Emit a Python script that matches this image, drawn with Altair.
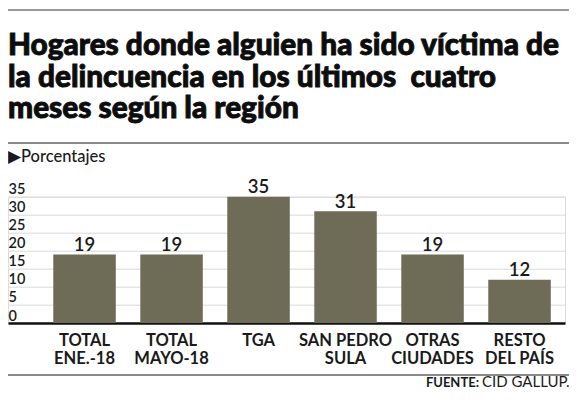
import altair as alt
import pandas as pd

# ---- data ----
regions = ["TOTAL|ENE.-18", "TOTAL|MAYO-18", "TGA", "SAN PEDRO|SULA", "OTRAS|CIUDADES", "RESTO|DEL PAÍS"]
values = [19, 19, 35, 31, 19, 12]
y_ticks = [0, 5, 10, 15, 20, 25, 30, 35]
title_lines = [
    "Hogares donde alguien ha sido víctima de",
    "la delincuencia en los últimos\u00a0 cuatro",
    "meses según la región",
]
subtitle = "▶Porcentajes"
source_label = "FUENTE:"
source_text = "CID GALLUP."

df = pd.DataFrame({"region": regions, "value": values})
one = pd.DataFrame({"k": [0]})

FONT = "Lato, Liberation Sans, sans-serif"
W, H = 557, 126.3
BAR = "#6e6c57"

x_enc = alt.X(
    "region:N",
    sort=regions,
    scale=alt.Scale(paddingInner=0.2816, paddingOuter=0.342, align=0.761),
    axis=alt.Axis(
        title=None,
        labelAngle=0,
        labelExpr="split(datum.label, '|')",
        labelFont=FONT,
        labelFontSize=16.5,
        labelFontWeight="bold",
        labelColor="#1a1a1a",
        labelLineHeight=18.3,
        labelBaseline="top",
        labelPadding=9,
        ticks=False,
        domainColor="#111111",
        domainWidth=2.5,
        grid=False,
    ),
)
y_enc = alt.Y(
    "value:Q",
    scale=alt.Scale(domain=[0, 35], nice=False),
    axis=alt.Axis(
        title=None,
        values=y_ticks,
        labelAlign="left",
        labelBaseline="bottom",
        labelPadding=0,
        labelFont=FONT,
        labelFontSize=14.5,
        labelFontWeight=600,
        labelColor="#1a1a1a",
        ticks=False,
        tickSize=0,
        domain=False,
        grid=True,
        gridColor="#d9d9d9",
        gridWidth=1,
        labelOverlap=False,
        labelFlush=False,
    ),
)

base = alt.Chart(df).encode(x=x_enc, y=y_enc)
bars = base.mark_bar(color=BAR)
vals = base.mark_text(
    baseline="alphabetic", dy=-3.5, font=FONT, fontSize=18.5, fontWeight=600, color="#1a1a1a"
).encode(text="value:Q")

top_line = alt.Chart(one).mark_rule(color="#9a9a9a", strokeWidth=2).encode(
    x=alt.value(0), x2=alt.value(561), y=alt.value(-186.7)
)
title = alt.Chart(one).mark_text(
    align="left", baseline="alphabetic", font=FONT, fontSize=29.8,
    fontWeight=900, color="#0d0d0d", stroke="#0d0d0d", strokeWidth=0.9, lineHeight=31.5,
).encode(x=alt.value(0), y=alt.value(-141.7), text=alt.value(title_lines))
mid_line = alt.Chart(one).mark_rule(color="#8a8a8a", strokeWidth=2).encode(
    x=alt.value(0), x2=alt.value(561), y=alt.value(-53.7)
)
sub = alt.Chart(one).mark_text(
    align="left", baseline="alphabetic", font=FONT, fontSize=16.5, fontWeight=500, color="#1a1a1a"
).encode(x=alt.value(0), y=alt.value(-34.7), text=alt.value(subtitle))
bottom_line = alt.Chart(one).mark_rule(color="#8a8a8a", strokeWidth=2).encode(
    x=alt.value(0), x2=alt.value(561), y=alt.value(178.3)
)
src_bold = alt.Chart(one).mark_text(
    align="right", baseline="alphabetic", font=FONT, fontSize=13,
    fontWeight="bold", color="#1a1a1a",
).encode(x=alt.value(471), y=alt.value(190.3), text=alt.value(source_label))
src_reg = alt.Chart(one).mark_text(
    align="left", baseline="alphabetic", font=FONT, fontSize=15, color="#1a1a1a"
).encode(x=alt.value(474), y=alt.value(190.3), text=alt.value(source_text))

chart = alt.layer(
    bars, vals, top_line, title, mid_line, sub, bottom_line, src_bold, src_reg
).properties(
    width=W, height=H,
    autosize=alt.AutoSizeParams(type="none"),
    padding={"left": 0, "top": 188.7, "right": 4, "bottom": 69},
).configure_view(stroke=None).configure(background="white")

chart.save("out.html", embed_options={"renderer": "svg", "actions": False})
